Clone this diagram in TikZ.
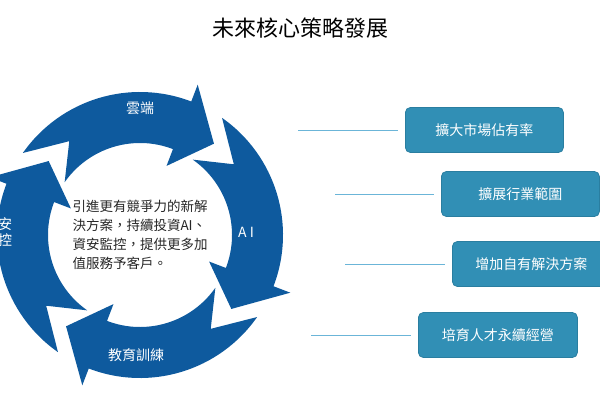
\documentclass[tikz,border=0pt]{standalone}
\usepackage{fontspec}
\setmainfont{Noto Sans CJK TC}
\begin{document}
\begin{tikzpicture}[x=1pt,y=1pt,
  arr/.style={fill=blue5},
  lbl/.style={text=white,font=\fontsize{14}{16}\selectfont},
  box/.style={rounded corners=5pt,fill=box1,draw=box2,line width=0.8pt,text=white,minimum height=45pt,font=\fontsize{14}{16}\selectfont,anchor=west},
  ln/.style={draw=line1,line width=1pt}]
\definecolor{blue5}{HTML}{0E5A9E}
\definecolor{box1}{HTML}{318FB5}
\definecolor{box2}{HTML}{2A7EA0}
\definecolor{line1}{HTML}{6BB5D8}
\useasboundingbox (0,0) rectangle (600,400);
\node (title) at (300,372) {\fontsize{22}{26}\selectfont 未來核心策略發展};
\begin{scope}[shift={(140,165)}]
\def\ri{92}\def\ro{143}\def\rm{117.5}
\foreach \a in {145,55,-35,-125}{
  \pgfmathsetmacro\h{\a-76}
  \pgfmathsetmacro\b{\a-94}
  \pgfmathsetmacro\n{\a-18}
  \fill[arr] (\a:\ro) arc[start angle=\a,end angle=\h,radius=\ro]
    -- (\h:\ro+18) -- (\b:\rm) -- (\h:\ri-18) -- (\h:\ri)
    arc[start angle=\h,end angle=\a,radius=\ri] -- (\n:\rm) -- cycle;
}
\end{scope}
\node[lbl] (l1) at (140,292) {雲端};
\node[lbl] (l2) at (246,168) {A I};
\node[lbl] (l3) at (136,45) {教育訓練};
\node[lbl,align=center] (l4) at (-2,168) {資安\\監控};
\node[align=left,font=\fontsize{13.5}{19}\selectfont,text=black!85] (c) at (140,165)
  {引進更有競爭力的新解\\決方案，持續投資AI、\\資安監控，提供更多加\\值服務予客戶。};
\node[box,minimum width=158pt] (b1) at (405,270) {擴大市場佔有率};
\node[box,minimum width=158pt] (b2) at (441,206) {擴展行業範圍};
\node[box,minimum width=158pt] (b3) at (452,136) {增加自有解決方案};
\node[box,minimum width=159pt] (b4) at (418,65) {培育人才永續經營};
\coordinate (p1) at (298,270);
\coordinate (p2) at (335,206);
\coordinate (p3) at (345,136);
\coordinate (p4) at (311,65);
\draw[ln] (p1) -- ([xshift=-7pt]b1.west);
\draw[ln] (p2) -- ([xshift=-7pt]b2.west);
\draw[ln] (p3) -- ([xshift=-7pt]b3.west);
\draw[ln] (p4) -- ([xshift=-7pt]b4.west);
\end{tikzpicture}
\end{document}
